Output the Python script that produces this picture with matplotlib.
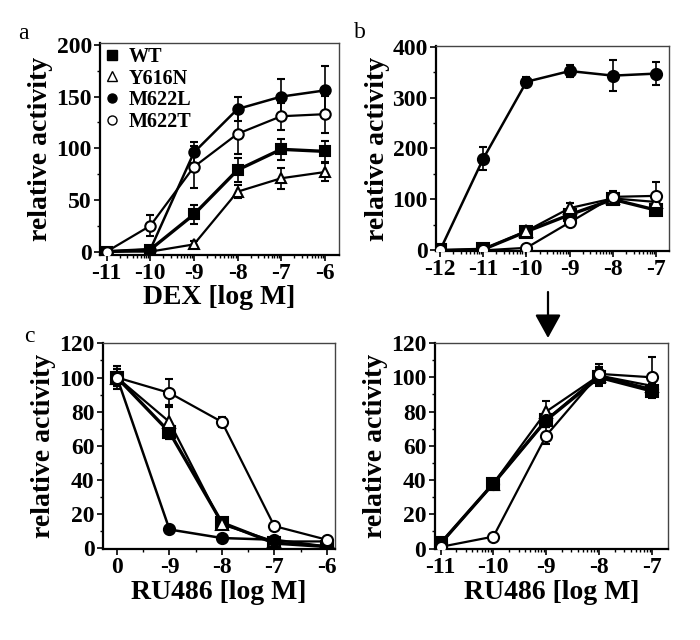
import numpy as np
import matplotlib
matplotlib.use("Agg")
import matplotlib.pyplot as plt
from matplotlib.ticker import FixedLocator, MultipleLocator

plt.rcParams['font.family'] = ['Liberation Serif', 'DejaVu Serif']
plt.rcParams['font.weight'] = 'bold'
plt.rcParams['axes.unicode_minus'] = False

series = ["WT", "Y616N", "M622L", "M622T"]

# Panel a: DEX
a_x = [-11, -10, -9, -8, -7, -6]
a_wt = [0, 2, 36, 79, 99, 97]
a_wt_err = [0, 1, 9, 12, 10, 10]
a_y616n = [0, 0, 7, 58, 71, 77]
a_y616n_err = [0, 0, 3, 6, 10, 9]
a_m622l = [0, 2, 96, 138, 150, 156]
a_m622l_err = [0, 1, 10, 12, 17, 24]
a_m622t = [0, 25, 82, 114, 131, 133]
a_m622t_err = [0, 10, 20, 20, 13, 18]

# Panel b: agonist (upper right)
b_x = [-12, -11, -10, -9, -8, -7]
b_wt = [0, 2, 37, 70, 100, 79]
b_wt_err = [0, 1, 4, 6, 6, 5]
b_y616n = [0, 2, 38, 83, 102, 95]
b_y616n_err = [0, 1, 4, 10, 8, 8]
b_m622l = [0, 180, 331, 352, 343, 347]
b_m622l_err = [0, 23, 10, 11, 30, 22]
b_m622t = [0, 0, 5, 55, 105, 107]
b_m622t_err = [0, 0, 2, 5, 12, 27]

# Panel c: RU486 antagonist
c_labels = ["0", "-9", "-8", "-7", "-6"]
c_wt = [100, 68, 15, 3, 1]
c_wt_err = [5, 4, 2, 1, 1]
c_y616n = [100, 74, 14, 4, 4]
c_y616n_err = [5, 10, 2, 1, 1]
c_m622l = [100, 11, 6, 5, 1]
c_m622l_err = [5, 1, 1, 1, 1]
c_m622t = [100, 91, 74, 13, 5]
c_m622t_err = [7, 8, 3, 1, 1]

# Panel d: RU486 agonist
d_x = [-11, -10, -9, -8, -7]
d_wt = [3, 38, 75, 100, 92]
d_wt_err = [1, 2, 4, 5, 3]
d_y616n = [3, 38, 80, 101, 95]
d_y616n_err = [1, 2, 6, 5, 3]
d_m622l = [3, 38, 75, 101, 93]
d_m622l_err = [1, 2, 4, 5, 3]
d_m622t = [1, 7, 66, 102, 100]
d_m622t_err = [1, 1, 5, 6, 12]

styles = {
    "WT": dict(marker='s', mfc='black', lw=2.4),
    "Y616N": dict(marker='^', mfc='white', lw=1.6),
    "M622L": dict(marker='o', mfc='black', lw=1.8),
    "M622T": dict(marker='o', mfc='white', lw=1.6),
}

fig = plt.figure(figsize=(7, 6.4), dpi=100)

def style_axes(ax):
    for s in ['left', 'bottom']:
        ax.spines[s].set_linewidth(1.6)
    for s in ['top', 'right']:
        ax.spines[s].set_linewidth(1.0)
        ax.spines[s].set_color('#444444')
    ax.tick_params(which='major', direction='out', length=4, width=1.2,
                   labelsize=17, pad=2)
    ax.tick_params(which='minor', direction='out', length=2.5, width=1.0)
    for lab in ax.get_xticklabels() + ax.get_yticklabels():
        lab.set_fontweight('bold')

def log_minor(lo, hi):
    return [d + np.log10(k) for d in range(lo, hi) for k in range(2, 10)]

def draw(ax, x, data, errs, ms):
    for name, y, e in zip(series, data, errs):
        st = styles[name]
        ax.errorbar(x, y, yerr=e, color='black', ecolor='black', elinewidth=1.2,
                    capsize=3, capthick=1.2, lw=st['lw'], marker=st['marker'],
                    mfc=st['mfc'], mec='black', mew=1.5, ms=ms, zorder=3)

# Panel a
ax = fig.add_axes([0.143, 0.602, 0.341, 0.331])
draw(ax, a_x, [a_wt, a_y616n, a_m622l, a_m622t],
     [a_wt_err, a_y616n_err, a_m622l_err, a_m622t_err], 7.5)
ax.set_xlim(-11.15, -5.68)
ax.set_ylim(-3, 202)
ax.set_xticks(a_x)
ax.xaxis.set_minor_locator(FixedLocator(log_minor(-11, -6)))
ax.set_yticks([0, 50, 100, 150, 200])
ax.yaxis.set_minor_locator(MultipleLocator(25))
ax.set_xlabel("DEX [log M]", fontsize=20, fontweight='bold', labelpad=1)
ax.set_ylabel("relative activity", fontsize=20, fontweight='bold', labelpad=2)
style_axes(ax)
handles = []
for name in series:
    st = styles[name]
    h, = ax.plot([], [], ls='none', marker=st['marker'], mfc=st['mfc'],
                 mec='black', mew=1.0, ms=6.5, color='black')
    handles.append(h)
leg = ax.legend(handles, series, loc='upper left', frameon=False,
                prop={'family': 'Liberation Serif', 'weight': 'bold', 'size': 14.5},
                handlelength=0.8, handletextpad=0.4, labelspacing=0.08,
                borderaxespad=0.1, borderpad=0.1)
fig.text(0.026, 0.948, "a", fontsize=17, fontweight='normal', va='center')

# Panel b
ax = fig.add_axes([0.623, 0.608, 0.333, 0.320])
draw(ax, b_x, [b_wt, b_y616n, b_m622l, b_m622t],
     [b_wt_err, b_y616n_err, b_m622l_err, b_m622t_err], 8)
ax.set_xlim(-12.09, -6.7)
ax.set_ylim(-1, 401)
ax.set_xticks(b_x)
ax.xaxis.set_minor_locator(FixedLocator(log_minor(-12, -7)))
ax.set_yticks([0, 100, 200, 300, 400])
ax.yaxis.set_minor_locator(MultipleLocator(50))
ax.set_ylabel("relative activity", fontsize=20, fontweight='bold', labelpad=2)
style_axes(ax)
fig.text(0.506, 0.950, "b", fontsize=17, fontweight='normal', va='center')

# Arrow
fig.add_artist(matplotlib.patches.FancyArrowPatch(
    (548 / 700, 1 - 292 / 640), (548 / 700, 1 - 338 / 640),
    transform=fig.transFigure, arrowstyle='-|>,head_length=1.45,head_width=0.8',
    mutation_scale=10, color='black', lw=1.6, shrinkA=0, shrinkB=0))

# Panel c
ax = fig.add_axes([0.147, 0.142, 0.331, 0.322])
cx = np.arange(len(c_labels))
draw(ax, cx, [c_wt, c_y616n, c_m622l, c_m622t],
     [c_wt_err, c_y616n_err, c_m622l_err, c_m622t_err], 8)
ax.set_xlim(-0.27, 4.15)
ax.set_ylim(-0.5, 120.2)
ax.set_xticks(cx)
ax.set_xticklabels(c_labels)
ax.xaxis.set_minor_locator(MultipleLocator(0.5))
ax.set_yticks([0, 20, 40, 60, 80, 100, 120])
ax.yaxis.set_minor_locator(MultipleLocator(10))
ax.set_xlabel("RU486 [log M]", fontsize=20, fontweight='bold', labelpad=1)
ax.set_ylabel("relative activity", fontsize=20, fontweight='bold', labelpad=2)
style_axes(ax)
fig.text(0.034, 0.474, "c", fontsize=17, fontweight='normal', va='center')

# Panel d
ax = fig.add_axes([0.621, 0.142, 0.333, 0.322])
draw(ax, d_x, [d_wt, d_y616n, d_m622l, d_m622t],
     [d_wt_err, d_y616n_err, d_m622l_err, d_m622t_err], 8)
ax.set_xlim(-11.11, -6.7)
ax.set_ylim(-0.3, 120)
ax.set_xticks(d_x)
ax.xaxis.set_minor_locator(FixedLocator(log_minor(-11, -7)))
ax.set_yticks([0, 20, 40, 60, 80, 100, 120])
ax.yaxis.set_minor_locator(MultipleLocator(10))
ax.set_xlabel("RU486 [log M]", fontsize=20, fontweight='bold', labelpad=1)
ax.set_ylabel("relative activity", fontsize=20, fontweight='bold', labelpad=2)
style_axes(ax)

fig.savefig("out.png", dpi=100)
